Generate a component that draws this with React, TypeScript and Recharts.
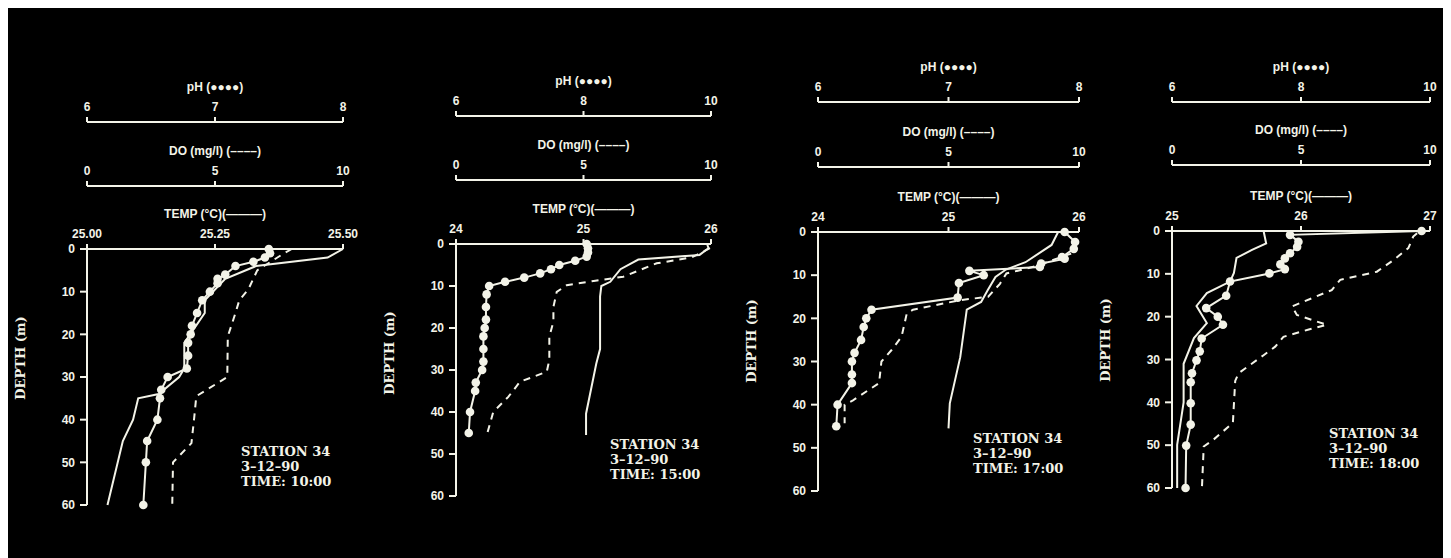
import { ScatterChart, Scatter, XAxis, YAxis } from 'recharts';

const INK = '#f3f3e8';
const SANS = '"Liberation Sans", Arial, sans-serif';
const SERIF = '"DejaVu Serif", serif';

// depth (m), value
const ph1 = [[0, 7.42], [1, 7.43], [2, 7.39], [3, 7.3], [4, 7.16], [6, 7.08], [7, 7.02], [8, 7.02], [10, 6.96], [12, 6.9], [15, 6.86], [18, 6.82], [20, 6.81], [22, 6.79], [25, 6.79], [28, 6.78], [30, 6.63], [33, 6.58], [35, 6.57], [40, 6.55], [45, 6.47], [50, 6.46], [60, 6.44]];
const do1 = [[0, 8.0], [1, 7.7], [5, 6.65], [9.5, 6.3], [12, 5.95], [15, 5.8], [20.5, 5.5], [30, 5.48], [34.5, 4.27], [40, 4.18], [45.5, 4.08], [50, 3.36], [60, 3.33]];
const temp1 = [[0, 25.5], [2, 25.47], [4, 25.33], [7, 25.27], [12, 25.23], [15, 25.23], [22, 25.19], [28, 25.19], [30, 25.18], [34, 25.14], [35, 25.1], [40, 25.09], [45, 25.07], [60, 25.04]];

const ph2 = [[0, 8.05], [1, 8.07], [2, 8.07], [3, 8.05], [4, 7.87], [5, 7.62], [6, 7.49], [7, 7.32], [8, 7.07], [9, 6.77], [10, 6.52], [12, 6.48], [15, 6.47], [18, 6.47], [20, 6.45], [22, 6.43], [25, 6.43], [28, 6.43], [30, 6.41], [33, 6.31], [35, 6.3], [40, 6.22], [45, 6.2]];
const do2 = [[1, 9.96], [3.2, 9.24], [4.6, 7.87], [7.8, 6.56], [8.8, 5.4], [9.8, 4.34], [11.4, 3.95], [15, 3.82], [18.5, 3.82], [22, 3.66], [27.6, 3.66], [30.4, 3.56], [32.8, 2.51], [36.4, 2.05], [40, 1.46], [45, 1.23]];
const temp2 = [[0, 25.97], [1, 25.98], [2.6, 25.91], [3.7, 25.43], [6, 25.29], [9, 25.21], [10, 25.14], [12.5, 25.13], [25, 25.13], [28.5, 25.1], [40.4, 25.02], [45.5, 25.02]];

const ph3 = [[0, 7.89], [2.3, 7.97], [3.9, 7.96], [5.8, 7.87], [6.2, 7.89], [7.3, 7.71], [8.1, 7.7], [9, 7.16], [10, 7.27], [11.8, 7.08], [15.2, 7.07], [18, 6.41], [20, 6.37], [22, 6.35], [25, 6.33], [28, 6.28], [30, 6.26], [33, 6.26], [35, 6.26], [40, 6.15], [45, 6.14]];
const do3 = [[5, 9.7], [8, 8.3], [9.6, 7.22], [12, 6.97], [15, 6.52], [15.8, 5.43], [18, 3.64], [18.9, 3.4], [24.3, 3.2], [27.4, 2.81], [30, 2.43], [35, 2.34], [39, 1.34], [40, 1.02], [44.3, 1.02]];
const temp3 = [[0, 25.84], [3, 25.79], [7, 25.59], [8.7, 25.44], [10.4, 25.36], [13.5, 25.3], [16.2, 25.25], [18, 25.14], [29, 25.09], [39.7, 25.01], [45.5, 25.0]];

const ph4 = [[0, 9.87], [0.9, 7.83], [2.5, 7.96], [3.7, 7.94], [5.2, 7.83], [6.4, 7.75], [7.8, 7.68], [8.9, 7.75], [9.9, 7.51], [11.8, 6.9], [15.1, 6.84], [18, 6.53], [20, 6.71], [21.9, 6.79], [25.1, 6.46], [28.1, 6.43], [30.2, 6.38], [33.2, 6.31], [35.3, 6.29], [40.2, 6.29], [45.2, 6.29], [50.1, 6.22], [60, 6.21]];
const do4 = [[0.5, 9.5], [1.3, 9.35], [4, 9.16], [6.8, 8.58], [9.5, 7.94], [11.4, 6.52], [13.8, 6.19], [17.6, 4.65], [19.6, 4.84], [21.9, 6.0], [23, 5.3], [24.7, 4.32], [27, 4.0], [29, 3.55], [33.2, 2.58], [35, 2.45], [44.8, 2.36], [48.7, 1.61], [50.3, 1.23], [60, 1.16]];
const temp4 = [[0, 25.71], [2.9, 25.73], [4.4, 25.62], [6.3, 25.5], [9.8, 25.48], [11.8, 25.45], [14.5, 25.27], [17.5, 25.19], [21.5, 25.27], [25, 25.17], [31, 25.09], [40, 25.09], [49.9, 25.04], [60, 25.04]];

const depthTicks = [0, 10, 20, 30, 40, 50, 60];
const doTicks = [0, 5, 10];
const phTicksA = [6, 7, 8];
const phTicksB = [6, 8, 10];
const tempTicks1 = [25, 25.25, 25.5];
const tempTicks2 = [24, 25, 26];
const tempTicks4 = [25, 26, 27];
const times = ['10:00', '15:00', '17:00', '18:00'];

const toPts = (rows: number[][]) => rows.map(([d, v]) => ({ d, v }));

const tickStyle = { fill: INK, fontSize: 12, fontWeight: 'bold', fontFamily: SANS };
const lineStyle = { stroke: INK, strokeWidth: 2 };

const axisTitle = (text: string) => (props: any) => {
  const vb = props.viewBox;
  if (!vb) return null;
  return (
    <text x={vb.x + vb.width / 2} y={vb.y + vb.height - 35} textAnchor="middle" dominantBaseline="central"
      fill={INK} fontSize={12} fontWeight="bold" fontFamily={SANS}>{text}</text>
  );
};

const depthTitle = (props: any) => {
  const vb = props.viewBox;
  if (!vb) return null;
  const x = vb.x + vb.width - 67;
  const y = vb.y + 109;
  return (
    <text x={x} y={y} transform={`rotate(-90, ${x}, ${y})`} textAnchor="middle" dominantBaseline="central"
      fill={INK} fontSize={13} fontWeight="bold" fontFamily={SERIF}>DEPTH (m)</text>
  );
};

const dot = (p: any) => <circle cx={p.cx} cy={p.cy} r={4.3} fill={INK} />;
const noDot = () => <g />;

interface PanelProps {
  plotLeft: number; plotW: number; plotTop: number; plotH: number;
  doLine: number; phLine: number;
  ph: number[][]; dox: number[][]; temp: number[][];
  phDomain: number[]; phTicks: number[];
  tempDomain: number[]; tempTicks: number[]; tempFmt: (v: number) => string;
  stationX: number; stationY: number; time: string;
}

// top axes stack in id order: a (nearest plot), b, c
function Panel(p: PanelProps) {
  const left = p.plotLeft - 80 - 8;
  const top = p.phLine - 50 - 8;
  const width = 80 + p.plotW + 30;
  const height = p.plotTop - p.phLine + 50 + p.plotH + 10;
  return (
    <>
      <div style={{ position: 'absolute', left, top }}>
        <ScatterChart width={width} height={height} margin={{ top: 0, right: 30, bottom: 10, left: 0 }}>
          <XAxis xAxisId="a_temp" type="number" dataKey="v" orientation="top" domain={p.tempDomain} ticks={p.tempTicks}
            interval={0} height={p.plotTop - p.doLine} tickFormatter={p.tempFmt}
            axisLine={lineStyle} tickLine={lineStyle} tickSize={5} tickMargin={6} tick={tickStyle}
            label={axisTitle('TEMP (°C)(———)')} />
          <XAxis xAxisId="b_do" type="number" dataKey="v" orientation="top" domain={[0, 10]} ticks={doTicks}
            interval={0} height={p.doLine - p.phLine}
            axisLine={lineStyle} tickLine={lineStyle} tickSize={5} tickMargin={6} tick={tickStyle}
            label={axisTitle('DO (mg/l) (––––)')} />
          <XAxis xAxisId="c_ph" type="number" dataKey="v" orientation="top" domain={p.phDomain} ticks={p.phTicks}
            interval={0} height={50}
            axisLine={lineStyle} tickLine={lineStyle} tickSize={5} tickMargin={6} tick={tickStyle}
            label={axisTitle('pH (●●●●)')} />
          <YAxis type="number" dataKey="d" domain={[0, 60]} ticks={depthTicks} reversed interval={0}
            width={80} axisLine={lineStyle} tickLine={lineStyle} tickSize={7} tickMargin={5} tick={tickStyle}
            label={depthTitle} />
          <Scatter xAxisId="a_temp" data={toPts(p.temp)} fill={INK} shape={noDot} line={{ stroke: INK, strokeWidth: 2 }}
            lineType="joint" isAnimationActive={false} />
          <Scatter xAxisId="b_do" data={toPts(p.dox)} fill={INK} shape={noDot}
            line={{ stroke: INK, strokeWidth: 2, strokeDasharray: '7 6' }} lineType="joint" isAnimationActive={false} />
          <Scatter xAxisId="c_ph" data={toPts(p.ph)} fill={INK} shape={dot} line={{ stroke: INK, strokeWidth: 2 }}
            lineType="joint" isAnimationActive={false} />
        </ScatterChart>
      </div>
      <div style={{
        position: 'absolute', left: p.stationX - 8, top: p.stationY - 8 - 8, color: INK,
        fontFamily: SERIF, fontWeight: 'bold', fontSize: 13, lineHeight: '15px', whiteSpace: 'pre',
      }}>
        {`STATION 34\n3–12–90\nTIME: ${p.time}`}
      </div>
    </>
  );
}

const fmt2 = (v: number) => v.toFixed(2);
const fmt0 = (v: number) => String(v);

export default function App() {
  return (
    <div style={{ position: 'relative', width: 1443, height: 550, background: '#000', overflow: 'hidden' }}>
      <Panel plotLeft={87} plotW={256} plotTop={249} plotH={256} doLine={186} phLine={122}
        ph={ph1} dox={do1} temp={temp1} phDomain={[6, 8]} phTicks={phTicksA}
        tempDomain={[25, 25.5]} tempTicks={tempTicks1} tempFmt={fmt2}
        stationX={241} stationY={452} time={times[0]} />
      <Panel plotLeft={456} plotW={255} plotTop={244} plotH={252} doLine={180} phLine={116}
        ph={ph2} dox={do2} temp={temp2} phDomain={[6, 10]} phTicks={phTicksB}
        tempDomain={[24, 26]} tempTicks={tempTicks2} tempFmt={fmt0}
        stationX={610} stationY={445} time={times[1]} />
      <Panel plotLeft={818} plotW={261} plotTop={232} plotH={259} doLine={167} phLine={102}
        ph={ph3} dox={do3} temp={temp3} phDomain={[6, 8]} phTicks={phTicksA}
        tempDomain={[24, 26]} tempTicks={tempTicks2} tempFmt={fmt0}
        stationX={973} stationY={439} time={times[2]} />
      <Panel plotLeft={1172} plotW={258} plotTop={231} plotH={257} doLine={165} phLine={102}
        ph={ph4} dox={do4} temp={temp4} phDomain={[6, 10]} phTicks={phTicksB}
        tempDomain={[25, 27]} tempTicks={tempTicks4} tempFmt={fmt0}
        stationX={1329} stationY={434} time={times[3]} />
    </div>
  );
}
